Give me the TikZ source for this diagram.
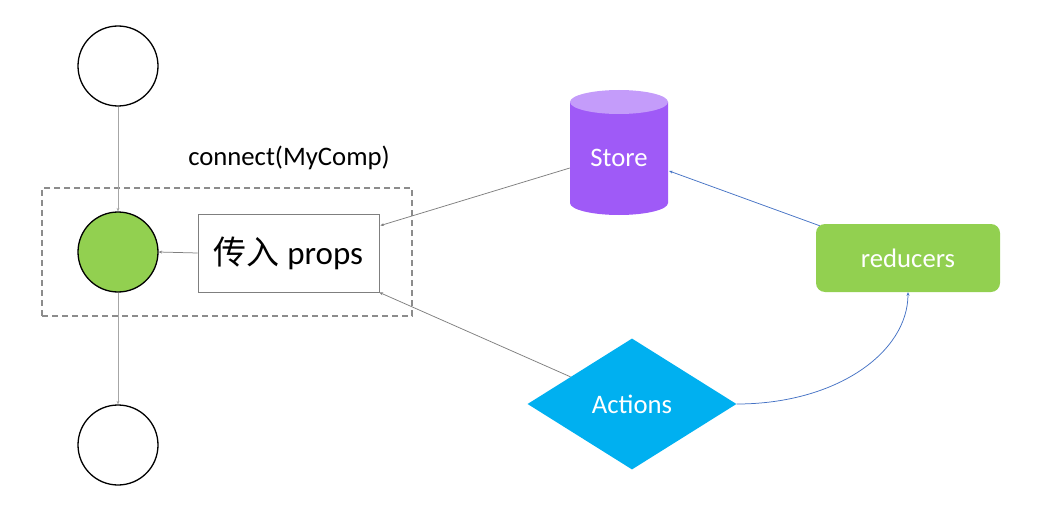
\documentclass[tikz,border=0pt]{standalone}
\usepackage{fontspec}
\setmainfont{Carlito}
\newfontfamily\cjk{Noto Sans CJK SC}
\usetikzlibrary{shapes.geometric,arrows.meta,calc}
\definecolor{cgreen}{HTML}{92D050}
\definecolor{cpurple}{HTML}{9F5AF7}
\definecolor{cpurpletop}{HTML}{C49CFA}
\definecolor{ccyan}{HTML}{00B0F0}
\definecolor{cblue}{HTML}{4472C4}
\definecolor{cgray}{HTML}{7F7F7F}
\definecolor{clgray}{HTML}{A6A6A6}
\definecolor{cdash}{HTML}{8C8C8C}
\tikzset{
  lifecircle/.style={circle,draw=black,line width=1.3pt,minimum size=80pt,inner sep=0pt},
  conn/.style={draw=cgray,line width=0.75pt,-{Stealth[length=3.5pt,width=3pt]}},
  vconn/.style={draw=clgray,line width=0.9pt,-{Stealth[length=3.5pt,width=3pt]}},
  bconn/.style={draw=cblue,line width=0.75pt,-{Stealth[length=3.5pt,width=3pt]}},
  wlabel/.style={text=white,font=\fontsize{26.7}{30}\selectfont},
}
\begin{document}
\begin{tikzpicture}[x=1pt,y=-1pt]
\useasboundingbox (0,0) rectangle (1055,524);
% dashed container
\node[draw=cdash,dashed,dash pattern=on 6pt off 4pt,line width=1.2pt,minimum width=370pt,minimum height=128pt,inner sep=0pt] (wrap) at (227,252) {};
\node[font=\fontsize{26.7}{30}\selectfont] (conn) at (289,158) {connect(MyComp)};
% circles
\node[lifecircle] (top) at (118,66) {};
\node[lifecircle,fill=cgreen] (mid) at (118,252) {};
\node[lifecircle] (bot) at (118,445) {};
% props box
\node[draw=cgray,line width=0.9pt,fill=white,minimum width=181pt,minimum height=78pt,inner sep=0pt,font=\fontsize{33}{36}\selectfont] (props) at (288.5,253) {{\cjk 传入} props};
% store cylinder
\fill[cpurple] (570,102) -- (570,203) arc[start angle=180,end angle=360,x radius=49pt,y radius=12pt] -- (668,102) -- cycle;
\fill[cpurpletop] (619,102) ellipse[x radius=49pt,y radius=12pt];
\node[wlabel,minimum width=98pt,minimum height=113pt,inner sep=0pt] (store) at (619,158) {Store};
% reducers
\node[wlabel,fill=cgreen,rounded corners=9pt,minimum width=184pt,minimum height=68pt,inner sep=0pt] (reducers) at (908,258) {reducers};
% actions
\node[wlabel,diamond,aspect=1.6,fill=ccyan,minimum width=209pt,minimum height=131pt,inner sep=0pt] (actions) at (632,404) {Actions};
% connectors
\draw[vconn] (top.south) -- (mid.north);
\draw[vconn] (mid.south) -- (bot.north);
\draw[conn] (props.west) -- (mid.east);
\draw[conn] ($(store.west)+(0,10)$) -- ($(props.north east)+(1,12)$);
\draw[conn] (actions) -- (props.south east);
\draw[bconn] ($(reducers.north west)+(4,2)$) -- ($(store.east)+(1,13)$);
\draw[bconn] (actions.east) .. controls +(100,0) and +(0,60) .. (reducers.south);
\end{tikzpicture}
\end{document}
